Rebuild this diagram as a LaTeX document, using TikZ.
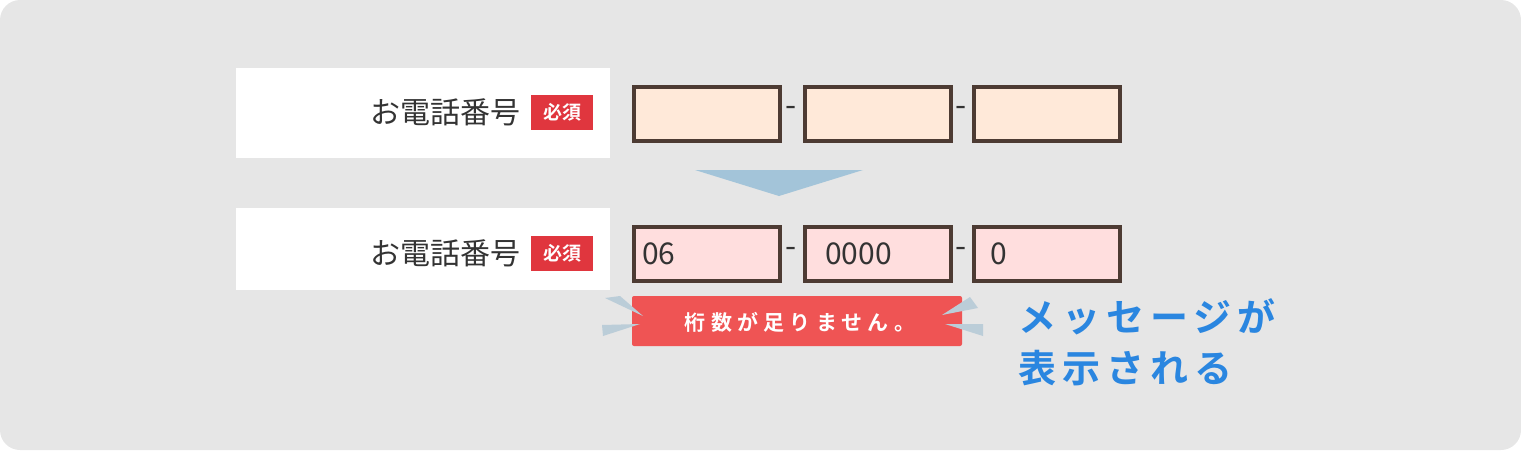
\documentclass[tikz,border=0pt]{standalone}
\usepackage{fontspec}
\setmainfont{Noto Sans CJK JP}[BoldFont={Noto Sans CJK JP Bold}]
\usetikzlibrary{positioning}
\definecolor{bgGray}{HTML}{E6E6E6}
\definecolor{peach}{HTML}{FFE9D9}
\definecolor{pinkErr}{HTML}{FFDEDE}
\definecolor{boxLine}{HTML}{4D3B33}
\definecolor{badgeRed}{HTML}{E0363E}
\definecolor{errRed}{HTML}{EF5454}
\definecolor{arrowBlue}{HTML}{A3C4D9}
\definecolor{tickBlue}{HTML}{BBCDD8}
\definecolor{msgBlue}{HTML}{2A86E0}
\definecolor{textDark}{HTML}{333333}

\begin{document}
\begin{tikzpicture}[x=1pt,y=-1pt,
	labelbox/.style={fill=white,draw=none},
	inbox/.style={draw=boxLine,line width=4pt,minimum width=146pt,minimum height=54pt,inner sep=0pt,anchor=north west},
	badge/.style={fill=badgeRed,text=white,font=\fontsize{19}{19}\selectfont\bfseries,minimum width=62pt,minimum height=35pt,inner sep=0pt},
	lbl/.style={text=textDark,font=\fontsize{30}{30}\selectfont,anchor=east,inner sep=0pt},
	val/.style={text=textDark,font=\fontsize{30}{30}\selectfont,anchor=west,inner sep=0pt},
	hyph/.style={text=textDark,font=\fontsize{32}{32}\selectfont,inner sep=0pt},
	msg/.style={text=msgBlue,font=\fontsize{38}{38}\selectfont\bfseries\addfontfeature{LetterSpace=16},anchor=west,inner sep=0pt},
	tick/.style={fill=tickBlue,draw=none}]
	\fill[bgGray,rounded corners=20pt] (0,0) rectangle (1521,450);
	\useasboundingbox (0,0) rectangle (1521,450);

	% first row
	\fill[labelbox] (236,68) rectangle (610,158);
	\node[lbl] (lblA) at (521,112) {お電話番号};
	\node[badge] (reqA) at (562,112) {必須};
	\node[inbox,fill=peach] (a1) at (632,85) {};
	\node[inbox,fill=peach] (a2) at (803,85) {};
	\node[inbox,fill=peach] (a3) at (972,85) {};
	\node[hyph] (da1) at (791,111) {-};
	\node[hyph] (da2) at (961,111) {-};

	% arrow
	\fill[arrowBlue] (695,170) -- (863,170) -- (779,196) -- cycle;

	% second row
	\fill[labelbox] (236,208) rectangle (610,290);
	\node[lbl] (lblB) at (521,253) {お電話番号};
	\node[badge] (reqB) at (562,253) {必須};
	\node[inbox,fill=pinkErr] (b1) at (632,225) {};
	\node[inbox,fill=pinkErr] (b2) at (803,225) {};
	\node[inbox,fill=pinkErr] (b3) at (972,225) {};
	\node[hyph] (db1) at (791,252) {-};
	\node[hyph] (db2) at (961,252) {-};
	\node[val] (v1) at (642,254) {06};
	\node[val] (v2) at (825,254) {0000};
	\node[val] (v3) at (990,254) {0};

	% error message
	\fill[errRed,rounded corners=2pt] (632,296) rectangle (962,346);
	\node[text=white,font=\fontsize{21}{21}\selectfont\bfseries\addfontfeature{LetterSpace=25}] (err) at (800,322) {桁数が足りません。};
	\fill[tick] (605,298) -- (620,296) -- (643,316) -- cycle;
	\fill[tick] (602,325) -- (640,324) -- (603,336) -- cycle;
	\fill[tick] (970,297) -- (978,308) -- (942,315) -- cycle;
	\fill[tick] (983,324) -- (945,324) -- (983,336) -- cycle;

	\node[msg] (msgA) at (1018,317) {メッセージが};
	\node[msg] (msgB) at (1018,368) {表示される};
\end{tikzpicture}
\end{document}
